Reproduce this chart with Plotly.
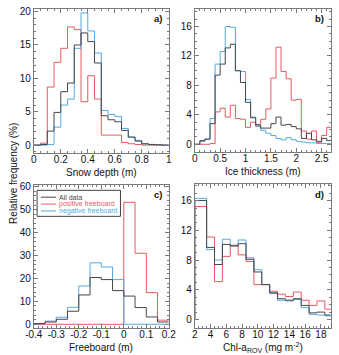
import plotly.graph_objects as go

W, H = 339, 355

# ---------------- data ----------------
# (a) snow depth, bins of 0.05 m
snow_edges = [0, 0.05, 0.1, 0.15, 0.2, 0.25, 0.3, 0.35, 0.4, 0.45, 0.5,
              0.55, 0.6, 0.65, 0.7, 0.75, 0.8, 0.85, 0.9, 0.95, 1.0]
snow_all = [0, 0.1, 2.1, 4.9, 8.0, 9.3, 15.0, 16.8, 15.5, 12.3, 4.4,
            3.8, 3.5, 2.2, 1.2, 0.6, 0.2, 0.1, 0.05, 0]
snow_pos = [0, 0.3, 8.7, 12.4, 14.5, 17.7, 17.3, 6.5, 10.4, 6.9, 1.5,
            1.5, 1.5, 0.4, 0.2, 0.1, 0, 0, 0, 0]
snow_neg = [0, 0, 0.1, 2.7, 6.0, 6.9, 14.5, 19.8, 17.1, 13.8, 5.2,
            4.6, 4.3, 2.5, 1.2, 0.7, 0.2, 0.1, 0.05, 0]

# (b) ice thickness, bins of 0.1 m
ice_edges = [0, 0.1, 0.2, 0.3, 0.4, 0.5, 0.6, 0.7, 0.8, 0.9, 1.0, 1.1, 1.2, 1.3,
             1.4, 1.5, 1.6, 1.7, 1.8, 1.9, 2.0, 2.1, 2.2, 2.3, 2.4, 2.5, 2.6, 2.7]
ice_all = [0, 0.5, 0.7, 2.8, 9.4, 10.9, 13.1, 13.6, 10.0, 8.4, 5.7, 3.6, 2.6, 2.2,
           2.2, 2.8, 3.7, 2.6, 2.7, 2.4, 2.1, 0.8, 1.5, 0.6, 0.4, 0.8, 0.5]
ice_pos = [0, 0, 0, 0.1, 4.4, 4.9, 3.7, 5.3, 3.5, 3.4, 2.3, 3.0, 2.7, 3.4,
           4.8, 9.0, 13.2, 9.9, 8.9, 6.0, 6.1, 1.8, 0.7, 1.8, 0.2, 1.2, 2.3]
ice_neg = [0, 0.4, 0.7, 3.5, 10.9, 12.6, 16.0, 15.9, 10.0, 9.9, 6.1, 3.7, 2.4, 1.9,
           1.5, 1.2, 0.8, 0.6, 0.9, 0.6, 0.4, 0.3, 0.2, 0.2, 0.1, 0.1, 0.1]

# (c) freeboard, bins of 0.05 m
fb_edges = [-0.4, -0.35, -0.3, -0.25, -0.2, -0.15, -0.1, -0.05, 0, 0.05, 0.1, 0.15, 0.2]
fb_all = [0.3, 1.0, 2.2, 5.7, 12.8, 20.4, 19.5, 14.7, 12.3, 7.3, 3.2, 1.0]
fb_pos = [0, 0, 0, 0, 0, 0, 0, 0, 53.2, 31.0, 13.8, 1.8]
fb_neg = [0.3, 1.4, 3.1, 7.4, 16.7, 26.8, 25.0, 19.5, 0, 0, 0, 0]

# (d) Chl-a ROV
chl_edges = [2, 3.5, 4.5, 5.5, 6.5, 7.5, 8.5, 9.5, 10.5, 11.5, 12.5, 13.5,
             14.5, 15.5, 16.5, 17.5, 18.5, 19.5]
chl_all = [16.0, 9.7, 7.4, 10.1, 9.9, 10.2, 8.1, 6.4, 4.7, 3.6, 2.8, 2.6,
           2.8, 1.9, 0.9, 1.0, 0.6]
chl_pos = [15.2, 11.1, 5.1, 8.5, 10.0, 8.7, 7.8, 4.7, 4.7, 3.8, 3.4, 3.1,
           3.7, 2.6, 1.9, 2.5, 1.4]
chl_neg = [16.3, 9.4, 8.0, 10.8, 9.9, 10.7, 8.3, 6.7, 4.7, 3.5, 2.6, 2.5,
           2.7, 1.6, 0.7, 0.6, 0.5]

series_names = ["All data", "positive freeboard", "negative freeboard"]
C_ALL = "#474747"
C_POS = "#e8595e"
C_NEG = "#52aae2"
FRAME = "#7a7a7a"
FONT = "Liberation Sans, Arial, Helvetica, sans-serif"

# ---------------- layout helpers ----------------
def px_x(x):
    return x / W

def px_y(y):
    return 1 - y / H

panels = {
    # name: (left, right, top, bottom) in pixels
    "a": (26, 167.7, 5, 151.7),
    "b": (195, 337.7, 5, 150.7),
    "c": (26, 167.7, 184, 329.3),
    "d": (195, 337.7, 183.3, 329.3),
}

fig = go.Figure()

def step(edges, vals):
    xs = [edges[0]] + list(edges[:len(vals) + 1])
    ys = [0] + list(vals) + [vals[-1]]
    return xs, ys

data = [
    ("a", "x", "y", snow_edges, snow_all, snow_pos, snow_neg),
    ("b", "x2", "y2", ice_edges, ice_all, ice_pos, ice_neg),
    ("c", "x3", "y3", fb_edges, fb_all, fb_pos, fb_neg),
    ("d", "x4", "y4", chl_edges, chl_all, chl_pos, chl_neg),
]

for key, xa, ya, edges, v_all, v_pos, v_neg in data:
    for vals, col, nm in [(v_pos, C_POS, series_names[1]),
                          (v_neg, C_NEG, series_names[2]),
                          (v_all, C_ALL, series_names[0])]:
        xs, ys = step(edges, vals)
        fig.add_trace(go.Scatter(x=xs, y=ys, mode="lines", line_shape="hv",
                                 line=dict(color=col, width=1),
                                 xaxis=xa, yaxis=ya, showlegend=False,
                                 hoverinfo="skip", cliponaxis=True))

axis_cfg = {
    "a": dict(xr=[0, 1], xd=0.2, xm=0.05, yr=[-1.2, 20.4], yd=5, ym=1),
    "b": dict(xr=[0, 2.68], xd=0.5, xm=0.1, yr=[-1.07, 18.4], yd=4, ym=1),
    "c": dict(xr=[-0.4, 0.2], xd=0.1, xm=0.02, yr=[-1.5, 60.8], yd=10, ym=2),
    "d": dict(xr=[2, 19.25], xd=2, xm=0.5, yr=[-1.1, 18.2], yd=4, ym=1),
}

common = dict(showline=True, linecolor=FRAME, linewidth=1, mirror="ticks",
              ticks="inside", ticklen=4, tickwidth=1, tickcolor=FRAME,
              showgrid=False, zeroline=False,
              tickfont=dict(family=FONT, size=10, color="#111"))

for i, key in enumerate(["a", "b", "c", "d"]):
    l, r, t, b = panels[key]
    cfg = axis_cfg[key]
    sfx = "" if i == 0 else str(i + 1)
    xax = dict(common, domain=[px_x(l), px_x(r)], range=cfg["xr"],
               dtick=cfg["xd"], tick0=0, anchor="y" + sfx,
               ticklabelstandoff=-3,
               minor=dict(ticks="inside", ticklen=2, dtick=cfg["xm"],
                          tickcolor=FRAME, tick0=0))
    if key == "c":
        xax.update(tickmode="array",
                   tickvals=[-0.4, -0.3, -0.2, -0.1, 0, 0.1, 0.2],
                   ticktext=["-0.4", "-0.3", "-0.2", "-0.1", "0", "0.1", "0.2"])
    yax = dict(common, domain=[px_y(b), px_y(t)], range=cfg["yr"],
               dtick=cfg["yd"], tick0=0, anchor="x" + sfx,
               minor=dict(ticks="inside", ticklen=2, dtick=cfg["ym"],
                          tickcolor=FRAME, tick0=0))
    fig.layout["xaxis" + sfx] = xax
    fig.layout["yaxis" + sfx] = yax

annotations = []
# panel labels
for key in ["a", "b", "c", "d"]:
    l, r, t, b = panels[key]
    annotations.append(dict(text="<b>%s)</b>" % key, x=px_x(r - 5), y=px_y(t + 10),
                            xref="paper", yref="paper", xanchor="right",
                            yanchor="middle", showarrow=False,
                            font=dict(family=FONT, size=9.5, color="#111")))
# axis titles
xtitles = {"a": "Snow depth (m)", "b": "Ice thickness (m)", "c": "Freeboard (m)",
           "d": "Chl-a<sub>ROV</sub> (mg m<sup>-2</sup>)"}
for key, txt in xtitles.items():
    l, r, t, b = panels[key]
    annotations.append(dict(text=txt, x=px_x((l + r) / 2), y=px_y(b + 20),
                            xref="paper", yref="paper", xanchor="center",
                            yanchor="middle", showarrow=False,
                            font=dict(family=FONT, size=10, color="#111")))
annotations.append(dict(text="Relative frequency (%)", x=px_x(4), y=px_y(172),
                        xref="paper", yref="paper", textangle=-90,
                        xanchor="center", yanchor="middle", showarrow=False,
                        font=dict(family=FONT, size=10, color="#111")))

# legend in panel c (drawn manually)
shapes = []
lx0, lx1, ly0, ly1 = 29.5, 117, 189.5, 216
shapes.append(dict(type="rect", xref="paper", yref="paper",
                   x0=px_x(lx0), x1=px_x(lx1), y0=px_y(ly1), y1=px_y(ly0),
                   line=dict(color="#444", width=1), fillcolor="white"))
rows = [196.5, 203.5, 210.5]
for yy, col, nm in zip(rows, [C_ALL, C_POS, C_NEG], series_names):
    shapes.append(dict(type="line", xref="paper", yref="paper",
                       x0=px_x(33.5), x1=px_x(49.5), y0=px_y(yy), y1=px_y(yy),
                       line=dict(color=col, width=1)))
    annotations.append(dict(text=nm, x=px_x(51.5), y=px_y(yy), xref="paper",
                            yref="paper", xanchor="left", yanchor="middle",
                            showarrow=False, borderpad=0,
                            font=dict(family=FONT, size=7, color=col)))

fig.update_layout(width=W, height=H, margin=dict(l=0, r=0, t=0, b=0),
                  paper_bgcolor="white", plot_bgcolor="white",
                  annotations=annotations, shapes=shapes, showlegend=False)

fig.write_html("out.html")
